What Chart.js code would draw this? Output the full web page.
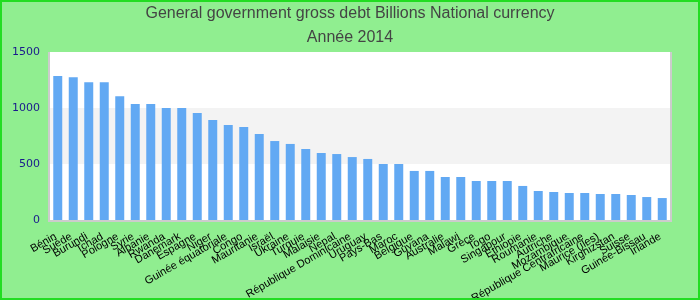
<!DOCTYPE html>
<html><head><meta charset="utf-8">
<script src="https://cdn.jsdelivr.net/npm/chart.js@4/dist/chart.umd.min.js"></script>
<style>html,body{margin:0;padding:0;background:#90ee90;}#wrap{width:700px;height:300px;position:relative;}</style>
</head><body><div id="wrap"><canvas id="c" width="700" height="300"></canvas></div>
<script>
const titleLines = ["General government gross debt Billions National currency", "Année 2014"];
const categories = ["Bénin","Suède","Burundi","Tchad","Pologne","Syrie","Albanie","Rwanda","Danemark","Espagne","Niger","Guinée équatoriale","Congo","Mauritanie","Israël","Ukraine","Turquie","Malaisie","Nepal","République Dominicaine","Uruguay","Pays-Bas","Maroc","Belgique","Guyana","Australie","Malawi","Grèce","Togo","Singapour","Ethiopie","Roumanie","Autriche","Mozambique","République Centrafricaine","Maurice (îles)","Kirghizstan","Suisse","Guinée-Bissau","Irlande"];
const debtValues = [1285,1275,1230,1230,1105,1036,1036,1000,1000,955,893,848,830,768,705,679,634,598,589,562,545,500,500,438,438,384,384,348,348,348,304,259,250,241,241,232,232,223,205,196];
const yTicks = [0,500,1000,1500];

const bgPlugin = {
  id:'bg',
  beforeDraw(chart){
    const {ctx, chartArea:a, scales:{y}} = chart;
    ctx.save();
    ctx.fillStyle='#90ee90';
    ctx.fillRect(0,0,chart.width,chart.height);
    ctx.fillStyle='#ffffff';
    ctx.fillRect(a.left,a.top,a.right-a.left,a.bottom-a.top);
    ctx.fillStyle='#f3f3f3';
    const t=y.getPixelForValue(1000), b=y.getPixelForValue(500);
    ctx.fillRect(a.left,t,a.right-a.left,b-t);
    ctx.restore();
  },
  afterDraw(chart){
    const {ctx, chartArea:a} = chart;
    ctx.save();
    ctx.strokeStyle='#cccccc'; ctx.lineWidth=2;
    ctx.beginPath();
    ctx.moveTo(a.left-1,a.top); ctx.lineTo(a.left-1,a.bottom+1); ctx.lineTo(a.right+1,a.bottom+1); ctx.lineTo(a.right+1,a.top);
    ctx.stroke();
    ctx.strokeStyle='#22dd22'; ctx.lineWidth=2;
    ctx.strokeRect(1,1,chart.width-2,chart.height-2);
    ctx.restore();
  }
};

new Chart(document.getElementById('c'),{
  type:'bar',
  data:{labels:categories,datasets:[{data:debtValues,backgroundColor:'#62a9f3',barPercentage:0.58,categoryPercentage:1}]},
  options:{
    responsive:false,animation:false,
    layout:{padding:{left:0,right:0,top:2,bottom:0}},
    plugins:{
      legend:{display:false},tooltip:{enabled:false},
      title:{display:true,text:titleLines,color:'#444444',font:{family:'Liberation Sans, Arial',size:16,weight:'normal',lineHeight:1.5},padding:{top:0,bottom:2}}
    },
    scales:{
      x:{
        grid:{display:false},border:{display:false},
        ticks:{autoSkip:false,minRotation:30,maxRotation:30,color:'#000000',padding:2,labelOffset:-2,font:{family:'Liberation Sans, Arial',size:11}},
        afterFit(s){s.height=80;}
      },
      y:{
        min:0,max:1500,
        grid:{display:false},border:{display:false},
        afterBuildTicks(s){s.ticks=yTicks.map(v=>({value:v}));},
        ticks:{color:'#1a1a8c',padding:2,font:{family:'DejaVu Sans',size:11},callback:(v)=>String(v)},
        afterFit(s){s.width=50;}
      },
      yRight:{
        position:'right',display:true,
        grid:{display:false},border:{display:false},
        ticks:{display:false},
        afterFit(s){s.width=30;}
      }
    }
  },
  plugins:[bgPlugin]
});
</script></body></html>
